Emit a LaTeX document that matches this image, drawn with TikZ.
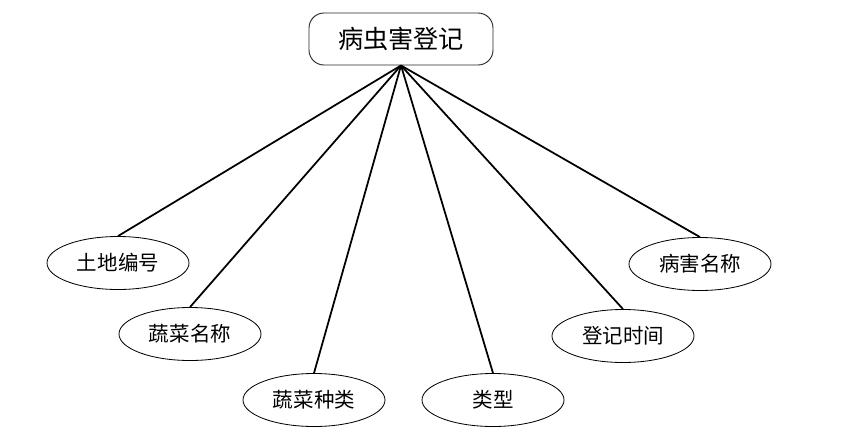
\documentclass[tikz,border=0pt]{standalone}
\usepackage{fontspec}
\usepackage{tikz}
\usetikzlibrary{shapes.geometric}
\newfontfamily\cjk{Noto Sans CJK SC}
\definecolor{edgegray}{RGB}{40,40,40}

\begin{document}
\begin{tikzpicture}[
  x=0.03cm, y=-0.03cm,
  topbox/.style={draw=edgegray, fill=white, rounded corners=0.45cm, minimum width=5.52cm, minimum height=1.56cm, line width=0.8pt, font=\cjk\fontsize{21.5}{25}\selectfont},
  attr/.style={ellipse, draw=black, fill=white, minimum width=4.26cm, minimum height=1.59cm, inner sep=0pt, line width=0.7pt, font=\cjk\fontsize{17.5}{21}\selectfont},
  link/.style={draw=black, line width=1.5pt}
]
  \useasboundingbox (0,0) rectangle (842,444);

  \node[topbox] (dengji) at (401,39) {病虫害登记};

  \node[attr] (tudi) at (118,263) {土地编号};
  \node[attr] (shucaimc) at (190,334) {蔬菜名称};
  \node[attr] (shucaizl) at (314,400) {蔬菜种类};
  \node[attr] (leixing) at (493,400) {类型};
  \node[attr] (shijian) at (623,336) {登记时间};
  \node[attr] (bingmc) at (700,264) {病害名称};

  \draw[link] (dengji.south) -- (tudi.north);
  \draw[link] (dengji.south) -- (shucaimc.north);
  \draw[link] (dengji.south) -- (shucaizl.north);
  \draw[link] (dengji.south) -- (leixing.north);
  \draw[link] (dengji.south) -- (shijian.north);
  \draw[link] (dengji.south) -- (bingmc.north);
\end{tikzpicture}
\end{document}
